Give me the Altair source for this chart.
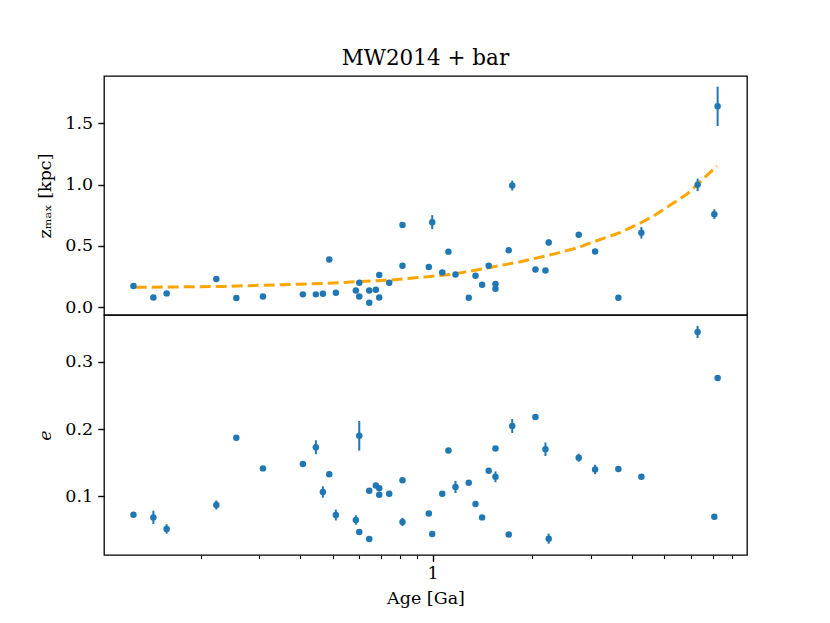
import altair as alt
import pandas as pd

# ---- data ----
age = [0.1255, 0.1441, 0.158, 0.2231, 0.2563, 0.3083, 0.4067, 0.4451, 0.4673, 0.4885,
       0.5113, 0.5875, 0.6015, 0.6015, 0.6447, 0.6447, 0.675, 0.691, 0.691, 0.7406,
       0.812, 0.812, 0.9747, 0.998, 1.070, 1.117, 1.173, 1.286, 1.348, 1.411,
       1.477, 1.548, 1.548, 1.697, 1.739, 2.043, 2.190, 2.240, 2.759, 3.091,
       3.633, 4.262, 6.296, 7.070, 7.234]

zmax = [0.174, 0.081, 0.114, 0.231, 0.076, 0.089, 0.106, 0.106, 0.111, 0.390,
        0.120, 0.138, 0.200, 0.089, 0.138, 0.038, 0.144, 0.263, 0.081, 0.200,
        0.670, 0.339, 0.328, 0.694, 0.285, 0.454, 0.268, 0.079, 0.258, 0.185,
        0.339, 0.190, 0.152, 0.466, 0.992, 0.309, 0.301, 0.529, 0.591, 0.455,
        0.079, 0.607, 0.998, 0.759, 1.637]

zmax_err = [0.008, 0.008, 0.008, 0.010, 0.008, 0.008, 0.008, 0.008, 0.008, 0.012,
            0.008, 0.008, 0.010, 0.008, 0.008, 0.006, 0.008, 0.010, 0.008, 0.010,
            0.015, 0.012, 0.012, 0.057, 0.012, 0.015, 0.012, 0.008, 0.012, 0.010,
            0.015, 0.010, 0.010, 0.015, 0.040, 0.012, 0.012, 0.025, 0.015, 0.015,
            0.008, 0.047, 0.050, 0.040, 0.160]

ecc = [0.0728, 0.0688, 0.0516, 0.0872, 0.187, 0.1416, 0.148, 0.173, 0.1065, 0.133,
       0.0723, 0.065, 0.190, 0.047, 0.1085, 0.0367, 0.1163, 0.112, 0.1025, 0.104,
       0.1238, 0.062, 0.0747, 0.0441, 0.104, 0.168, 0.114, 0.1204, 0.0887, 0.0688,
       0.138, 0.1713, 0.129, 0.0435, 0.2046, 0.218, 0.170, 0.0372, 0.1575, 0.140,
       0.1407, 0.1293, 0.3443, 0.0698, 0.276]

ecc_err = [0.003, 0.010, 0.007, 0.0067, 0.003, 0.003, 0.003, 0.0104, 0.0085, 0.003,
           0.008, 0.007, 0.022, 0.003, 0.003, 0.003, 0.003, 0.003, 0.003, 0.003,
           0.003, 0.006, 0.003, 0.003, 0.003, 0.003, 0.009, 0.003, 0.003, 0.003,
           0.003, 0.003, 0.008, 0.003, 0.0104, 0.003, 0.010, 0.0075, 0.006, 0.007,
           0.003, 0.003, 0.009, 0.003, 0.003]

fit_age = [0.1275, 0.2351, 0.4706, 0.747, 0.920, 1.159, 1.462, 1.841, 2.320, 2.759,
           2.924, 3.684, 4.262, 4.641, 5.851, 7.203]
fit_zmax = [0.163, 0.171, 0.195, 0.223, 0.244, 0.271, 0.320, 0.372, 0.434, 0.488,
            0.515, 0.610, 0.691, 0.745, 0.922, 1.152]

minor_ticks = [0.2, 0.3, 0.4, 0.5, 0.6, 0.7, 0.8, 0.9, 1, 2, 3, 4, 5, 6, 7, 8]

BLUE = "#1f77b4"
ORANGE = "#ffa500"
FONT = "DejaVu Serif"

df = pd.DataFrame({"age": age, "zmax": zmax, "zerr": zmax_err, "e": ecc, "eerr": ecc_err})
df["zlo"] = df["zmax"] - df["zerr"]
df["zhi"] = df["zmax"] + df["zerr"]
df["elo"] = df["e"] - df["eerr"]
df["ehi"] = df["e"] + df["eerr"]
fit = pd.DataFrame({"age": fit_age, "zfit": fit_zmax})

W = 643
H1 = 239
H2 = 240

xscale = alt.Scale(type="log", domain=[0.1023, 8.87], nice=False)

# ---- top panel ----
ytop_scale = alt.Scale(domain=[-0.062, 1.884], nice=False, zero=False)
ytop_axis = alt.Axis(values=[0, 0.5, 1.0, 1.5], format=".1f", title="zₘₐₓ [kpc]")
x_none = alt.X("age:Q", scale=xscale, axis=None)

fit_line = alt.Chart(fit).mark_line(color=ORANGE, strokeWidth=3, strokeDash=[11, 5]).encode(
    x=x_none,
    y=alt.Y("zfit:Q", scale=ytop_scale, axis=ytop_axis),
)
top_err = alt.Chart(df).mark_rule(color=BLUE, strokeWidth=2).encode(
    x=x_none,
    y=alt.Y("zlo:Q", scale=ytop_scale, axis=ytop_axis),
    y2="zhi:Q",
)
top_pts = alt.Chart(df).mark_circle(color=BLUE, size=42, opacity=1).encode(
    x=x_none,
    y=alt.Y("zmax:Q", scale=ytop_scale, axis=ytop_axis),
)
top = alt.layer(fit_line, top_err, top_pts).properties(
    width=W, height=H1,
    title=alt.TitleParams("MW2014 + bar", font=FONT, fontSize=21.5, fontWeight="normal",
                          anchor="middle", offset=7, color="black"),
)

# ---- bottom panel ----
ybot_scale = alt.Scale(domain=[0.0129, 0.3695], nice=False, zero=False)
ybot_axis = alt.Axis(values=[0.1, 0.2, 0.3], format=".1f", title="e", titleFontStyle="italic")
x_axis = alt.Axis(
    values=minor_ticks,
    labelExpr="datum.value == 1 ? '1' : ''",
    tickSize={"condition": {"test": "datum.value == 1", "value": 6.3}, "value": 3.6},
    tickWidth={"condition": {"test": "datum.value == 1", "value": 1.4}, "value": 1.1},
    title="Age [Ga]",
    labelOverlap=False,
    labelPadding=3,
    titlePadding=8,
)
x_bot = alt.X("age:Q", scale=xscale, axis=x_axis)

bot_err = alt.Chart(df).mark_rule(color=BLUE, strokeWidth=2).encode(
    x=x_bot,
    y=alt.Y("elo:Q", scale=ybot_scale, axis=ybot_axis),
    y2="ehi:Q",
)
bot_pts = alt.Chart(df).mark_circle(color=BLUE, size=42, opacity=1).encode(
    x=x_bot,
    y=alt.Y("e:Q", scale=ybot_scale, axis=ybot_axis),
)
bottom = alt.layer(bot_err, bot_pts).properties(width=W, height=H2)

chart = alt.vconcat(top, bottom, spacing=0, bounds="flush").properties(
    padding={"left": 28, "top": 38, "right": 5, "bottom": 5}
).configure_view(
    stroke="black", strokeWidth=1.3
).configure_axis(
    labelFont=FONT, titleFont=FONT, labelFontSize=17.5, titleFontSize=17.5,
    labelColor="black", titleColor="black", tickColor="black",
    titleFontWeight="normal", grid=False, domain=False,
    tickSize=6.3, tickWidth=1.4, labelPadding=5, titlePadding=10,
)

chart.save("out.html", embed_options={"renderer": "svg", "actions": False})
